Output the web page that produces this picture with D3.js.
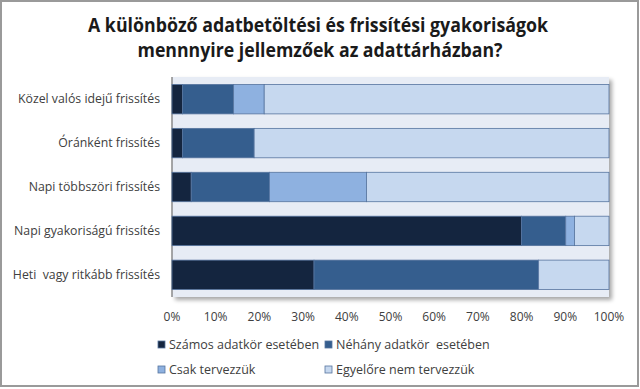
<!DOCTYPE html>
<html><head><meta charset="utf-8">
<script src="https://cdn.jsdelivr.net/npm/d3@7"></script>
<style>
body{margin:0;background:#fff;}
svg text{font-family:"Open Sans",Lato,sans-serif;}
</style></head>
<body><svg id="c" width="640" height="389"></svg>
<script>
const categories = ["Közel valós idejű frissítés","Óránként frissítés","Napi többszöri frissítés","Napi gyakoriságú frissítés","Heti  vagy ritkább frissítés"];
const seriesNames = ["Számos adatkör esetében","Néhány adatkör  esetében","Csak tervezzük","Egyelőre nem tervezzük"];
const szamos = [2.4, 2.4, 4.4, 80.0, 32.5];
const nehany = [11.7, 16.4, 17.9, 10.1, 51.4];
const csak = [7.0, 0, 22.2, 2.0, 0];
const egyelore = [78.9, 81.2, 55.5, 7.9, 16.1];
const tickLabels = ["0%","10%","20%","30%","40%","50%","60%","70%","80%","90%","100%"];
const colors = ["#14253F","#355E8E","#8EB1E0","#C6D8EF"];
const titleLines = ["A különböző adatbetöltési és frissítési gyakoriságok","mennnyire jellemzőek az adattárházban?"];
const titleWidths = [460, 365];

const svg = d3.select("#c");
// outer border
svg.append("rect").attr("x",1).attr("y",1).attr("width",637).attr("height",385)
  .attr("fill","#fff").attr("stroke","#9a9a9a").attr("stroke-width",2);

// title
svg.selectAll(".tt").data(titleLines).join("text").attr("class","tt")
  .attr("x",(d,i)=>i?320:318).attr("y",(d,i)=>32+i*24.5).attr("text-anchor","middle")
  .attr("font-weight","bold").attr("font-size",19.5).attr("fill","#1a1a1a")
  .attr("textLength",(d,i)=>titleWidths[i]).attr("lengthAdjust","spacingAndGlyphs")
  .text(d=>d);

const L=172,R=609,T=77,B=297;
const x = d3.scaleLinear().domain([0,100]).range([L,R]);
const y = d3.scaleBand().domain(categories).range([T,B]).paddingInner(0.33).paddingOuter(0.17);

// shadow
const defs = svg.append("defs");
const f = defs.append("filter").attr("id","sh").attr("x","-5%").attr("y","-5%").attr("width","115%").attr("height","120%");
f.append("feGaussianBlur").attr("in","SourceAlpha").attr("stdDeviation",2);
f.append("feOffset").attr("dx",3).attr("dy",3).attr("result","b");
f.append("feComponentTransfer").append("feFuncA").attr("type","linear").attr("slope",0.35);
const m=f.append("feMerge"); m.append("feMergeNode"); m.append("feMergeNode").attr("in","SourceGraphic");

svg.append("rect").attr("x",L).attr("y",T).attr("width",R-L).attr("height",B-T)
  .attr("fill","#E7ECF5").attr("filter","url(#sh)");
svg.append("line").attr("x1",L).attr("x2",L).attr("y1",T).attr("y2",B).attr("stroke","#8a8a8a").attr("stroke-width",1.5);

const stackData = categories.map((c,i)=>({cat:c, s0:szamos[i], s1:nehany[i], s2:csak[i], s3:egyelore[i]}));
const stack = d3.stack().keys(["s0","s1","s2","s3"])(stackData);
const g = svg.append("g");
stack.forEach((layer,k)=>{
  g.selectAll(null).data(layer.filter(d=>d[1]-d[0]>0)).join("rect")
   .attr("x",d=>x(d[0])).attr("width",d=>x(d[1])-x(d[0]))
   .attr("y",d=>y(d.data.cat)).attr("height",y.bandwidth())
   .attr("fill",colors[k]).attr("stroke","#56749F").attr("stroke-width",0.8);
});

// x axis labels
const ticks = d3.range(0,101,10);
svg.selectAll(".xt").data(ticks).join("text").attr("class","xt")
  .attr("x",d=>x(d)).attr("y",321).attr("text-anchor","middle")
  .attr("font-size",12).attr("fill","#404040").text((d,i)=>tickLabels[i]);

// category labels
svg.selectAll(".yl").data(categories).join("text").attr("class","yl")
  .attr("x",160).attr("y",d=>y(d)+y.bandwidth()/2+4).attr("text-anchor","end")
  .attr("font-size",12.3).attr("fill","#404040").attr("xml:space","preserve").text(d=>d);

// legend
const legPos=[[158,345],[325,345],[158,370],[325,370]];
seriesNames.forEach((n,i)=>{
  const [lx,ly]=legPos[i];
  svg.append("rect").attr("x",lx).attr("y",ly-4).attr("width",7).attr("height",7)
    .attr("fill",colors[i]).attr("stroke","#56749F").attr("stroke-width",0.8);
  svg.append("text").attr("x",lx+11).attr("y",ly+4).attr("font-size",12.5).attr("fill","#404040")
    .attr("xml:space","preserve").text(n);
});
</script></body></html>
